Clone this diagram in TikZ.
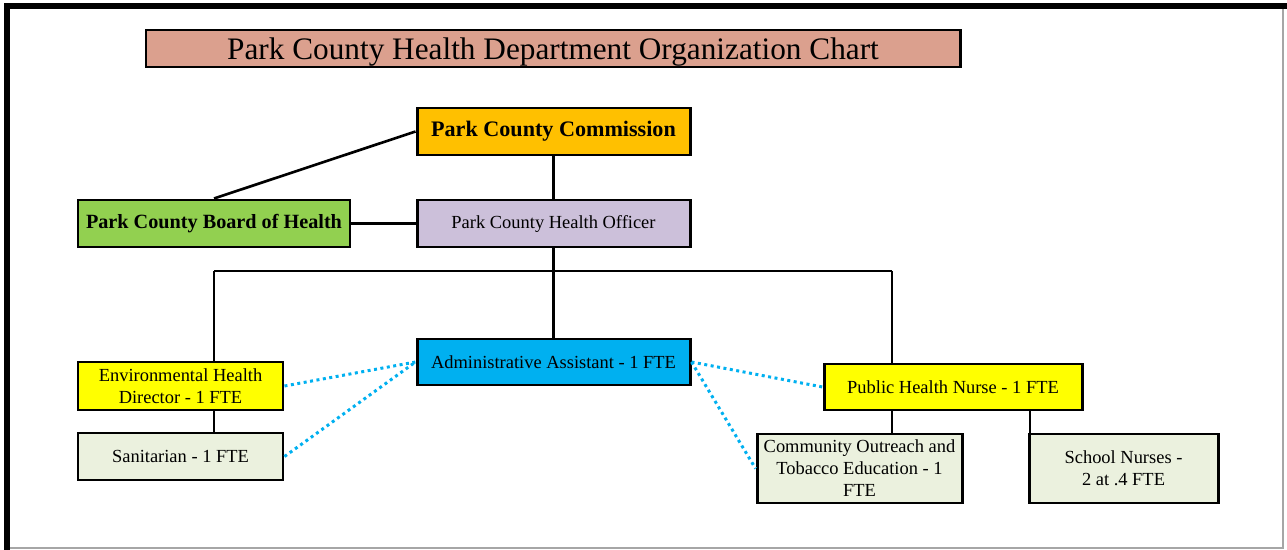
\documentclass[tikz,border=0pt]{standalone}
\usepackage{fontspec}
\setmainfont{Liberation Serif}
\definecolor{titlebg}{HTML}{DBA08E}
\definecolor{commbg}{HTML}{FFC000}
\definecolor{boardbg}{HTML}{92D050}
\definecolor{officerbg}{HTML}{CCC0DA}
\definecolor{adminbg}{HTML}{00B0F0}
\definecolor{staffbg}{HTML}{FFFF00}
\definecolor{unitbg}{HTML}{EBF1DE}
\definecolor{liaison}{HTML}{00B0F0}
\begin{document}
\begin{tikzpicture}[x=0.02cm, y=-0.02cm,
        orgbox/.style={draw, line width=1.7pt, inner sep=0pt, align=center,
            font=\fontsize{10.5}{12.5}\selectfont},
        boxsize/.style 2 args={minimum width=#1*0.02cm, minimum height=#2*0.02cm},
        link/.style={line width=1.5pt},
        dotlink/.style={liaison, line width=1.7pt, dotted}]
        \useasboundingbox (0, 0) rectangle (1287, 550);

        % frame
        \draw[gray!70, line width=0.8pt] (1283, 6) -- (1283, 548) -- (7, 548);
        \draw[line width=3pt] (7, 550) -- (7, 6) -- (1287, 6);

        \node[orgbox, boxsize={814}{37}, fill=titlebg, font=\fontsize{17.8}{20}\selectfont] (title) at (553, 48.5) {\raisebox{-6pt}[0pt][0pt]{Park County Health Department Organization Chart}};

        \node[orgbox, boxsize={273}{47}, fill=commbg, font=\fontsize{12.6}{15}\selectfont\bfseries] (comm) at (553.5, 131.5) {Park County Commission};
        \node[orgbox, boxsize={272}{47}, fill=boardbg, font=\fontsize{11.5}{15}\selectfont\bfseries] (board) at (214, 223.5) {Park County Board of Health};
        \node[orgbox, boxsize={273}{47}, fill=officerbg] (officer) at (553.5, 223.5) {Park County Health Officer};
        \node[orgbox, boxsize={273}{46}, fill=adminbg] (admin) at (553.5, 362) {Administrative Assistant - 1 FTE};

        \node[orgbox, boxsize={205}{48}, fill=staffbg] (envdir) at (180.5, 386) {Environmental Health\\Director - 1 FTE};
        \node[orgbox, boxsize={205}{47}, fill=unitbg] (sanit) at (180.5, 456.5) {Sanitarian - 1 FTE};
        \node[orgbox, boxsize={258}{46}, fill=staffbg] (nurse) at (953, 387) {Public Health Nurse - 1 FTE};
        \node[orgbox, boxsize={205}{69}, fill=unitbg] (outreach) at (859.5, 468.5) {Community Outreach and\\Tobacco Education - 1\\FTE};
        \node[orgbox, boxsize={189}{69}, fill=unitbg] (school) at (1123.5, 468.5) {School Nurses -\\2 at .4 FTE};

        \coordinate (barL) at (214, 271);
        \coordinate (barR) at (892, 271);
        \coordinate (barS) at (1030, 271);

        \draw[link] (comm.west) -- (board.north);
        \draw[link] (comm.south) -- (officer.north);
        \draw[link] (board.east) -- (officer.west);
        \draw[link] (officer.south) -- (admin.north);
        \draw[link] (barL) -- (barR);
        \draw[link] (barL) -- (barL |- envdir.north);
        \draw[link] (barR) -- (barR |- nurse.north);
        \draw[link] (barL |- envdir.south) -- (barL |- sanit.north);
        \draw[link] (barR |- nurse.south) -- (barR |- outreach.north);
        \draw[link] (barS |- nurse.south) -- (barS |- school.north);

        \draw[dotlink] (envdir.east) -- (admin.west);
        \draw[dotlink] (sanit.east) -- (admin.west);
        \draw[dotlink] (admin.east) -- (nurse.west);
        \draw[dotlink] (admin.east) -- (outreach.west);
    \end{tikzpicture}
\end{document}
